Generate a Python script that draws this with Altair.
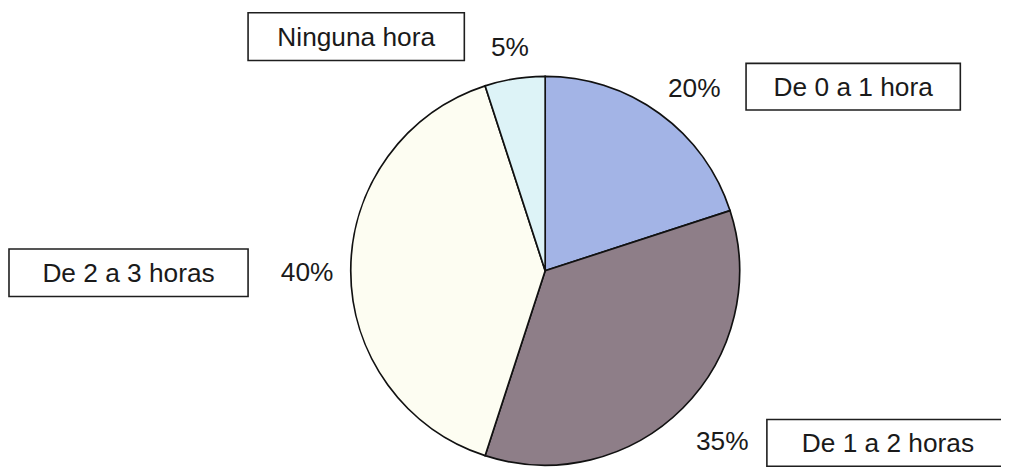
import altair as alt
import pandas as pd

# ---- data ----
categorias = ["De 0 a 1 hora", "De 1 a 2 horas", "De 2 a 3 horas", "Ninguna hora"]
porcentajes = [20, 35, 40, 5]
etiquetas = ["20%", "35%", "40%", "5%"]
colores = ["#a3b4e6", "#8e7e88", "#fdfdf2", "#ddf3f7"]

# ---- layout (chart pixel space) ----
W, H = 1001, 462
CX, CY, R = 541.5, 263, 196
FONT = "Liberation Sans"
FS = 26.5
# distance of each percentage label from the pie centre, plus small nudges
radio_etiqueta = {"20%": (237, 11, 9), "35%": (244, 6, 0), "40%": (241, 1, 2), "5%": (227, 0, 0)}
# label boxes: x0, x1, y0, y1
cajas = {
    "Ninguna hora": (242, 460, 3, 51),
    "De 0 a 1 hora": (744, 960, 54, 101),
    "De 2 a 3 horas": (1, 242, 241, 289),
    "De 1 a 2 horas": (765, 1012, 413, 460),
}

df = pd.DataFrame({
    "categoria": categorias,
    "valor": porcentajes,
    "etiqueta": etiquetas,
    "orden": list(range(len(categorias))),
})

base = alt.Chart(df).encode(
    theta=alt.Theta("valor:Q", stack=True),
    order=alt.Order("orden:Q"),
    x=alt.value(CX),
    y=alt.value(CY),
)

pie = base.mark_arc(outerRadius=R, stroke="#111111", strokeWidth=1.7).encode(
    color=alt.Color("categoria:N",
                    scale=alt.Scale(domain=categorias, range=colores),
                    legend=None)
)

pct_layers = []
for et, (r, ddx, ddy) in radio_etiqueta.items():
    pct_layers.append(
        base.mark_text(radius=r, font=FONT, fontSize=FS, color="#1a1a1a",
                       align="center", baseline="middle", dx=ddx, dy=ddy).encode(
            text=alt.condition(alt.datum.etiqueta == et,
                               alt.Text("etiqueta:N"), alt.value(""))
        )
    )

cdf = pd.DataFrame({
    "categoria": list(cajas.keys()),
    "x0": [v[0] for v in cajas.values()],
    "x1": [v[1] for v in cajas.values()],
    "y0": [v[2] for v in cajas.values()],
    "y1": [v[3] for v in cajas.values()],
})
cdf["xc"] = (cdf["x0"] + cdf["x1"]) / 2
cdf.loc[cdf["categoria"] == "De 1 a 2 horas", "xc"] = 887
cdf["yc"] = (cdf["y0"] + cdf["y1"]) / 2

boxes = alt.Chart(cdf).mark_rect(fill="white", stroke="#1e1e1e", strokeWidth=1.6).encode(
    x=alt.X("x0:Q", scale=None), x2="x1:Q",
    y=alt.Y("y0:Q", scale=None), y2="y1:Q",
)
box_text = alt.Chart(cdf).mark_text(font=FONT, fontSize=FS, color="#1a1a1a",
                                    align="center", baseline="middle", dy=1).encode(
    x=alt.X("xc:Q", scale=None),
    y=alt.Y("yc:Q", scale=None),
    text="categoria:N",
)

chart = alt.layer(pie, *pct_layers, boxes, box_text).properties(
    width=W, height=H,
    autosize=alt.AutoSizeParams(type="none"),
    padding=0,
    background="white",
).configure_view(stroke=None)

chart.save("out.html", embed_options={"renderer": "svg", "actions": False})
